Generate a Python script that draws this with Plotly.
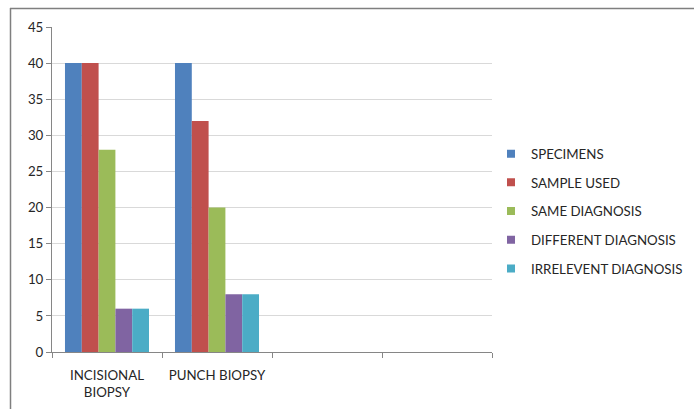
import plotly.graph_objects as go

categories = ["INCISIONAL<br>BIOPSY", "PUNCH BIOPSY", " ", "  "]
series_names = ["SPECIMENS", "SAMPLE USED", "SAME DIAGNOSIS", "DIFFERENT DIAGNOSIS", "IRRELEVENT DIAGNOSIS"]
specimens = [40, 40, None, None]
sample_used = [40, 32, None, None]
same_diagnosis = [28, 20, None, None]
different_diagnosis = [6, 8, None, None]
irrelevent_diagnosis = [6, 8, None, None]
colors = ["#4F81BD", "#C0504D", "#9BBB59", "#8064A2", "#4BACC6"]
y_ticks = [0, 5, 10, 15, 20, 25, 30, 35, 40, 45]

all_values = [specimens, sample_used, same_diagnosis, different_diagnosis, irrelevent_diagnosis]

W, H = 694, 409
L, R, T, B = 52, 492, 27, 352
FS = 13.3
TXT = "#262626"

fig = go.Figure()
for i, (name, vals) in enumerate(zip(series_names, all_values)):
    fig.add_trace(go.Bar(x=categories, y=vals, name=name, marker_color=colors[i],
                         marker_line_width=0, showlegend=False))
# legend entries (small squares like the original)
for i, name in enumerate(series_names):
    fig.add_trace(go.Scatter(x=[None], y=[None], mode="markers", name=name,
                             marker=dict(symbol="square", size=8, color=colors[i]),
                             legendgroup=str(i), showlegend=True))

def px_x(p):
    return (p - L) / (R - L)

def px_y(p):
    return (B - p) / (B - T)

fig.update_layout(
    width=W, height=H,
    margin=dict(l=L, r=W - R, t=T, b=H - B, autoexpand=False),
    paper_bgcolor="white", plot_bgcolor="white",
    barmode="group", bargap=0.236, bargroupgap=0,
    font=dict(family="Lato, Open Sans, sans-serif", size=FS, color=TXT),
    showlegend=True,
    legend=dict(x=px_x(491), y=px_y(138.5), xanchor="left", yanchor="top",
                tracegroupgap=8.4, font=dict(size=FS, color=TXT),
                bgcolor="rgba(0,0,0,0)", itemwidth=30),
    xaxis=dict(type="category", categoryorder="array", categoryarray=categories,
               range=[-0.5, 3.5], showline=True, linecolor="#868686", linewidth=1,
               ticks="outside", tickson="boundaries", ticklen=5, tickcolor="#868686",
               showgrid=False, ticklabelstandoff=11, automargin=False,
               tickfont=dict(size=FS, color=TXT)),
    yaxis=dict(range=[0, 45], tickvals=y_ticks, showline=True, linecolor="#868686",
               linewidth=1, ticks="outside", ticklen=5, tickcolor="#868686",
               showgrid=True, gridcolor="#D9D9D9", gridwidth=1, zeroline=False,
               automargin=False, tickfont=dict(size=FS, color=TXT)),
    shapes=[
        dict(type="line", xref="paper", yref="paper", x0=px_x(10), x1=px_x(694),
             y0=px_y(8.5), y1=px_y(8.5), line=dict(color="#7F7F7F", width=1.5)),
        dict(type="line", xref="paper", yref="paper", x0=px_x(10.5), x1=px_x(10.5),
             y0=px_y(8), y1=px_y(409), line=dict(color="#7F7F7F", width=1.5)),
    ],
)

fig.write_html("out.html")
